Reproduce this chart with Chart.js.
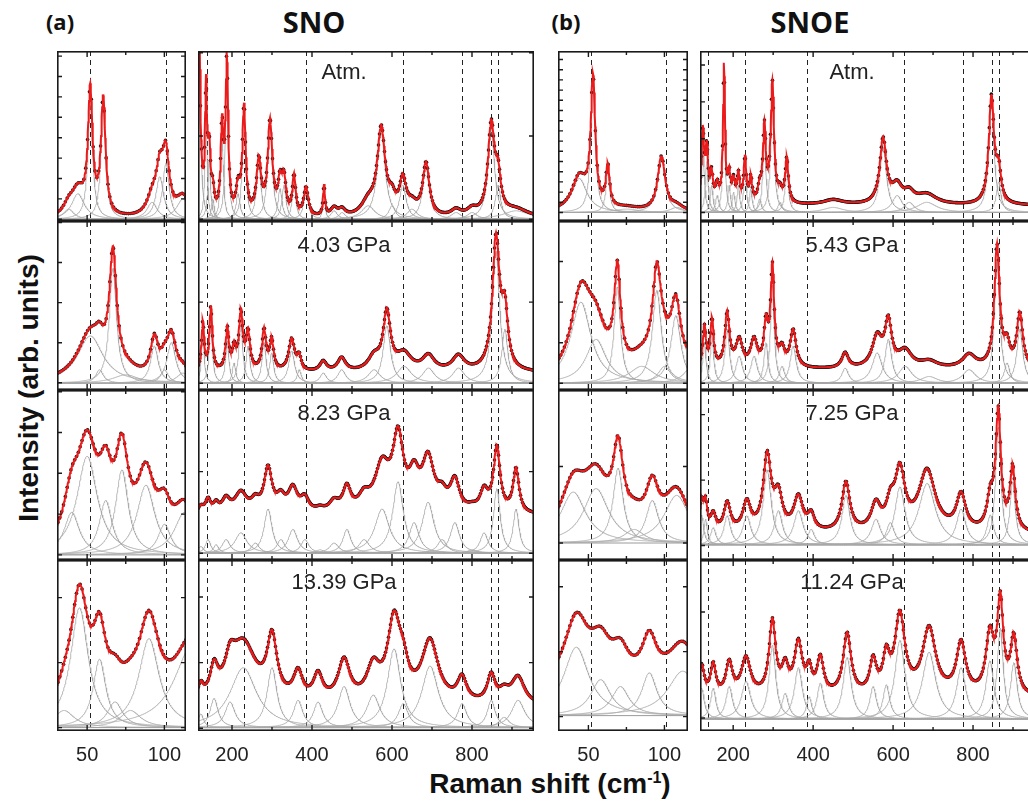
<!DOCTYPE html>
<html>
<head>
<meta charset="utf-8">
<script src="https://cdn.jsdelivr.net/npm/chart.js@4.4.1/dist/chart.umd.min.js"></script>
<style>
  body { margin: 0; width: 1028px; height: 802px; overflow: hidden; background: #fff; position: relative; font-family: "Liberation Sans", Arial, sans-serif; }
  canvas { position: absolute; }
  .lbl { position: absolute; white-space: nowrap; transform: translate(-50%, -50%); color: #111; }
  .head { font-family: "Open Sans", sans-serif; font-weight: 700; }
  .press { font-size: 22px; color: #222; }
  .axis { font-weight: 700; font-size: 28px; }
</style>
</head>
<body>
<div class="lbl head" style="left:60px;top:21px;font-size:22px">(a)</div>
<div class="lbl head" style="left:314px;top:21px;font-size:29px">SNO</div>
<div class="lbl head" style="left:566px;top:21px;font-size:22px">(b)</div>
<div class="lbl head" style="left:810px;top:21px;font-size:29px">SNOE</div>
<div class="lbl axis" style="left:29px;top:388px;transform:translate(-50%,-50%) rotate(-90deg)">Intensity (arb. units)</div>
<div class="lbl axis" style="left:550px;top:784px">Raman shift (cm<sup style="font-size:16px">-1</sup>)</div>
<script>
// tick labels and reference lines (cm-1)
const lowTicks = [50, 100];
const wideTicks = [200, 400, 600, 800];
const lowMarks = [52, 101];
const wideMarks = [137, 230, 385, 627, 775, 847, 865];

const pressureSNO = ["Atm.", "4.03 GPa", "8.23 GPa", "13.39 GPa"];
const pressureSNOE = ["Atm.", "5.43 GPa", "7.25 GPa", "11.24 GPa"];

// fitted Lorentz components: [centre cm-1, height, half width]
const snoLowAtm = [[38, 6, 4], [44, 15, 5], [52, 72, 1.8], [60.4, 68, 1.8], [92, 10, 4], [97, 25, 3], [101, 33, 2.5], [112, 12, 5]];
const snoLow403 = [[52, 28, 10], [58, 8, 3], [66.7, 68, 2.8], [75, 5, 10], [93.5, 22, 3], [100, 8, 3], [104.5, 24, 3.5], [112, 6, 5]];
const snoLow823 = [[40, 25, 6], [50, 58, 8], [62, 32, 5], [72.5, 50, 5], [88, 41, 7], [100, 18, 5], [113, 25, 8]];
const snoLow1339 = [[35, 10, 8], [45, 70, 7], [58, 40, 5], [68, 15, 6], [78, 10, 8], [90, 52, 8], [118, 48, 14]];

const snoAtm = [[117, 130, 4], [135, 70, 3], [143, 35, 4], [152, 12, 4], [175, 50, 4], [187, 90, 4], [215, 15, 6], [230, 63, 5],
  [267, 32, 7], [295, 55, 7], [320, 18, 6], [330, 20, 6], [355, 23, 5], [385, 17, 7], [430, 18, 3], [455, 5, 10], [475, 4, 10],
  [540, 8, 20], [573, 51, 12], [600, 8, 10], [627, 20, 10], [650, 6, 15], [685, 31, 10], [760, 4, 15], [800, 4, 15],
  [848, 53, 10], [865, 20, 8], [910, 5, 40]];
const sno403 = [[127, 29, 4], [147, 38, 4.5], [188, 25, 5], [205, 12, 5], [222, 34, 6], [240, 22, 6], [280, 24, 6], [299, 18, 6],
  [349, 19, 9], [368, 8, 6], [428, 6, 10], [474, 8, 12], [555, 8, 18], [587, 34, 11], [630, 10, 22], [691, 9, 18], [766, 9, 18],
  [860, 78, 11], [882, 32, 9]];
const sno823 = [[122, 4, 8], [140, 8, 8], [160, 5, 8], [185, 8, 12], [222, 12, 18], [258, 6, 12], [290, 26, 12], [322, 8, 12],
  [352, 14, 14], [382, 8, 12], [420, 2, 12], [455, 6, 14], [487, 14, 12], [530, 8, 16], [575, 26, 22], [615, 42, 16], [655, 18, 15],
  [690, 30, 18], [725, 8, 14], [757, 18, 14], [800, 2, 14], [830, 12, 12], [862, 38, 10], [910, 26, 9]];
const sno1339 = [[122, 8, 8], [155, 17, 12], [195, 15, 15], [228, 35, 40], [300, 35, 15], [365, 16, 14], [415, 15, 14], [480, 24, 18],
  [553, 19, 20], [605, 46, 20], [628, 14, 15], [695, 36, 25], [775, 14, 14], [848, 16, 12], [880, 6, 15], [915, 16, 20]];

const snoeLowAtm = [[44, 20, 6], [53, 75, 1.8], [62.7, 24, 1.5], [75, 2, 10], [98, 32, 3], [108, 3, 5]];
const snoeLow543 = [[45, 48, 8], [55, 26, 8], [69, 57, 2.5], [85, 10, 10], [95, 55, 3.5], [100, 10, 5], [107.5, 40, 4], [118, 10, 6]];
const snoeLow725 = [[40, 30, 10], [55, 32, 10], [69.5, 44, 4], [80, 8, 8], [92, 25, 5], [108, 28, 10]];
const snoeLow1124 = [[42, 40, 10], [58, 21, 8], [71, 17, 7], [90, 25, 6], [112, 26, 12]];

const snoeAtm = [[124, 42, 4], [134, 30, 4], [146, 16, 4], [160, 10, 5], [177, 80, 3], [190, 16, 4], [201, 12, 4], [213, 16, 4],
  [229.5, 26, 4], [244, 14, 4], [266, 8, 5], [278, 44, 4.5], [298, 70, 5], [317, 6, 6], [334, 26, 5], [450, 3, 30], [575, 38, 10],
  [610, 10, 15], [640, 6, 15], [684, 6, 30], [846, 63, 8], [864, 18, 7]];
const snoe543 = [[128, 24, 5], [147, 28, 5], [185, 32, 7], [215, 16, 10], [252, 16, 10], [282, 24, 6], [298, 58, 5.5], [322, 10, 8],
  [350, 22, 9], [480, 9, 10], [560, 18, 15], [588, 26, 10], [630, 10, 20], [690, 4, 25], [790, 8, 20], [860, 72, 8], [885, 12, 8], [917, 32, 9]];
const snoe725 = [[121, 17.5, 6], [131, 15, 5], [150, 10, 8], [185, 17, 10], [234, 17, 12], [285, 44, 12], [313, 20, 12], [363, 20, 14],
  [395, 9, 10], [482, 29, 12], [557, 15, 14], [593, 13, 12], [617, 34, 15], [685, 36, 25], [770, 21, 14], [843, 17.5, 10], [863, 69, 8], [899, 37, 8]];
const snoe1124 = [[121, 18, 8], [150, 18, 8], [190, 19, 10], [232, 22, 14], [298, 43, 10], [330, 15, 10], [363, 30, 12], [390, 13, 8],
  [418, 21, 10], [485, 36, 12], [550, 19, 10], [583, 20, 10], [617, 46, 15], [690, 39, 20], [770, 30, 14], [842, 34, 12], [868, 53, 9], [902, 33, 10]];

// flat baseline of the components and extra background under the fit, per row
const snoLowBase = [1, 4, 3, 2];
const snoBase = [1, 4, 4, 2];
const snoeLowBase = [5, 4, 10, 9];
const snoeBase = [5, 4, 9, 7];
const snoLowOffset = [0, 0, 0, 0];
const snoOffset = [0, 6, 22, 12];
const snoeLowOffset = [0, 0, 0, 14];
const snoeOffset = [4, 8, 6, 12];

// layout
const rowTop = [51, 221, 390, 560];
const rowHeight = [170, 169, 170, 171];
const columns = [
  { left: 57, width: 129, min: 30.5, max: 114, ticks: lowTicks, marks: lowMarks, minor: 25, major: 50, step: 0.25, dot: 1.2,
    peaks: [snoLowAtm, snoLow403, snoLow823, snoLow1339], base: snoLowBase, offset: snoLowOffset,
    yTicks: [[1, 12], [4.3, 23.7], [3, 24], [2, 38]] },
  { left: 198, width: 336, min: 115, max: 955, ticks: wideTicks, marks: wideMarks, minor: 100, major: 200, step: 1, dot: 2.5,
    peaks: [snoAtm, sno403, sno823, sno1339], base: snoBase, offset: snoOffset, labels: pressureSNO, labelX: 344,
    yTicks: [[1, 49], [4, 48], [4, 48], [1.6, 38.4]] },
  { left: 558, width: 130, min: 30, max: 115.5, ticks: lowTicks, marks: lowMarks, minor: 25, major: 50, step: 0.25, dot: 1.2,
    peaks: [snoeLowAtm, snoeLow543, snoeLow725, snoeLow1124], base: snoeLowBase, offset: snoeLowOffset,
    yTicks: [[5, 6], [4, 24], [10, 45], [8.4, 38]] },
  { left: 700, width: 335, min: 117, max: 955, ticks: wideTicks, marks: wideMarks, minor: 100, major: 200, step: 1, dot: 2.5,
    peaks: [snoeAtm, snoe543, snoe725, snoe1124], base: snoeBase, offset: snoeOffset, labels: pressureSNOE, labelX: 852,
    yTicks: [[5, 21.7], [4, 48], [8.5, 38.5], [7.6, 62]] }
];
const labelDy = [21, 24, 23, 22];

const lorentz = (x, p) => p[1] / (1 + ((x - p[0]) / p[2]) ** 2);

const frame = {
  id: "frame",
  beforeDatasetsDraw(chart, args, opts) {
    const { ctx, chartArea: a, scales: { x } } = chart;
    ctx.save();
    ctx.beginPath();
    ctx.rect(a.left, a.top, a.width, a.height);
    ctx.clip();
    ctx.strokeStyle = "#222";
    ctx.lineWidth = 1;
    ctx.setLineDash([5, 4]);
    opts.marks.forEach((m) => {
      const px = Math.round(x.getPixelForValue(m)) + 0.5;
      ctx.beginPath();
      ctx.moveTo(px, a.top);
      ctx.lineTo(px, a.bottom);
      ctx.stroke();
    });
    ctx.restore();
  },
  afterDatasetsDraw(chart, args, opts) {
    const { ctx, chartArea: a, scales: { x, y } } = chart;
    ctx.save();
    ctx.strokeStyle = "#1a1a1a";
    ctx.lineWidth = 1.4;
    ctx.beginPath();
    for (let v = Math.ceil(x.min / opts.minor) * opts.minor; v <= x.max; v += opts.minor) {
      const px = x.getPixelForValue(v);
      const len = v % opts.major === 0 ? 6 : 4;
      ctx.moveTo(px, a.bottom);
      ctx.lineTo(px, a.bottom - len);
      ctx.moveTo(px, a.top);
      ctx.lineTo(px, a.top + len);
    }
    for (let v = opts.yTicks[0]; v < 99.5; v += opts.yTicks[1]) {
      const py = y.getPixelForValue(v);
      ctx.moveTo(a.left, py);
      ctx.lineTo(a.left + 5, py);
      ctx.moveTo(a.right, py);
      ctx.lineTo(a.right - 5, py);
    }
    ctx.stroke();
    ctx.lineWidth = 1.6;
    ctx.strokeRect(a.left + 0.8, a.top + 0.8, a.width - 1.6, a.height - 1.6);
    ctx.restore();
  }
};

columns.forEach((col) => {
  rowTop.forEach((top, row) => {
    const bottomRow = row === rowTop.length - 1;
    const peaks = col.peaks[row];
    const base = col.base[row];
    const offset = col.offset[row];
    const xs = [];
    for (let x = col.min; x <= col.max + 1e-9; x += col.step) xs.push(x);
    const fit = (x) => base + offset + peaks.reduce((s, p) => s + lorentz(x, p), 0);

    const datasets = [];
    datasets.push({
      data: xs.map((x) => ({ x, y: fit(x) })),
      borderColor: "#ec1b1b", borderWidth: 2, pointRadius: 0, order: 0
    });
    const dots = [];
    for (let x = col.min + col.dot / 2; x <= col.max; x += col.dot) dots.push({ x, y: fit(x) });
    datasets.push({
      data: dots, showLine: false, pointRadius: 1.8, pointBorderWidth: 0,
      pointBackgroundColor: "#111", order: 1
    });
    peaks.forEach((p) => {
      datasets.push({
        data: xs.map((x) => ({ x, y: base + lorentz(x, p) })),
        borderColor: "#a8a8a8", borderWidth: 0.8, pointRadius: 0, order: 2
      });
    });
    datasets.push({
      data: [{ x: col.min, y: base }, { x: col.max, y: base }],
      borderColor: "#9a9a9a", borderWidth: 1, pointRadius: 0, order: 3
    });

    const canvas = document.createElement("canvas");
    const h = rowHeight[row] + (bottomRow ? 32 : 0);
    canvas.width = col.width;
    canvas.height = h;
    canvas.style.left = col.left + "px";
    canvas.style.top = top + "px";
    document.body.appendChild(canvas);

    new Chart(canvas, {
      type: "line",
      data: { datasets },
      plugins: [frame],
      options: {
        responsive: false,
        animation: false,
        events: [],
        parsing: false,
        normalized: true,
        layout: { padding: 0, autoPadding: false },
        elements: { line: { tension: 0 } },
        plugins: {
          legend: { display: false },
          tooltip: { enabled: false },
          frame: { marks: col.marks, minor: col.minor, major: col.major, yTicks: col.yTicks[row] }
        },
        scales: {
          x: {
            type: "linear", min: col.min, max: col.max, display: bottomRow,
            afterFit: (s) => { s.height = bottomRow ? 32 : 0; },
            afterBuildTicks: (s) => { s.ticks = col.ticks.map((v) => ({ value: v })); },
            grid: { display: false }, border: { display: false },
            ticks: { autoSkip: false, maxRotation: 0, padding: 4, color: "#222", font: { family: "Liberation Sans", size: 20 } }
          },
          y: { display: false, min: 0, max: 100 }
        }
      }
    });

    if (col.labels) {
      const div = document.createElement("div");
      div.className = "lbl press";
      div.style.left = col.labelX + "px";
      div.style.top = top + labelDy[row] + "px";
      div.textContent = col.labels[row];
      document.body.appendChild(div);
    }
  });
});
</script>
</body>
</html>
